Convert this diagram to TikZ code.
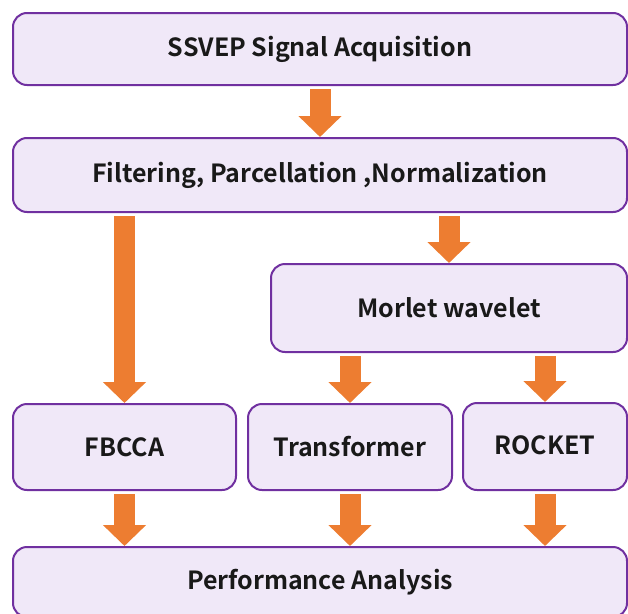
\documentclass[tikz,border=0pt]{standalone}
\usepackage{fontspec}
\setmainfont{Noto Sans CJK JP}[UprightFont=* Medium, BoldFont=* Bold]
\usetikzlibrary{arrows.meta,calc}
\definecolor{boxfill}{HTML}{F0E8F8}
\definecolor{boxline}{HTML}{7030A0}
\definecolor{arr}{HTML}{ED7D31}
\begin{document}
\begin{tikzpicture}[x=1pt,y=-1pt,
  stagebox/.style={draw=boxline, line width=2pt, fill=boxfill, rounded corners=14pt,
    inner sep=0pt, font=\fontsize{25}{28}\selectfont\bfseries, text=black!90},
  bigarrow/.style={draw=arr, line width=21pt, shorten <=3pt,
    -{Triangle[width=42pt,length=21pt]}}]
\useasboundingbox (0,0) rectangle (628,613);
\node[stagebox, minimum width=614pt, minimum height=72pt] (acq) at (320,49) {SSVEP Signal Acquisition};
\node[stagebox, minimum width=614pt, minimum height=74pt] (filt) at (320,175) {Filtering, Parcellation ,Normalization};
\node[stagebox, minimum width=356pt, minimum height=88pt] (morlet) at (449,308) {Morlet wavelet};
\node[stagebox, minimum width=223pt, minimum height=86pt] (fbcca) at (124.5,447) {FBCCA};
\node[stagebox, minimum width=204pt, minimum height=86pt] (trans) at (350,447) {Transformer};
\node[stagebox, minimum width=164pt, minimum height=87pt] (rocket) at (545,446.5) {\raisebox{3pt}{ROCKET}};
\node[stagebox, minimum width=614pt, minimum height=70pt] (perf) at (320,582) {Performance Analysis};
\draw[bigarrow] (acq.south) -- (filt.north);
\draw[bigarrow] (fbcca.north |- filt.south) -- (fbcca.north);
\draw[bigarrow] (morlet.north |- filt.south) -- (morlet.north);
\draw[bigarrow] (trans.north |- morlet.south) -- (trans.north);
\draw[bigarrow] (rocket.north |- morlet.south) -- (rocket.north);
\draw[bigarrow] (fbcca.south) -- (fbcca.south |- perf.north);
\draw[bigarrow] (trans.south) -- (trans.south |- perf.north);
\draw[bigarrow] (rocket.south) -- (rocket.south |- perf.north);
\end{tikzpicture}
\end{document}
